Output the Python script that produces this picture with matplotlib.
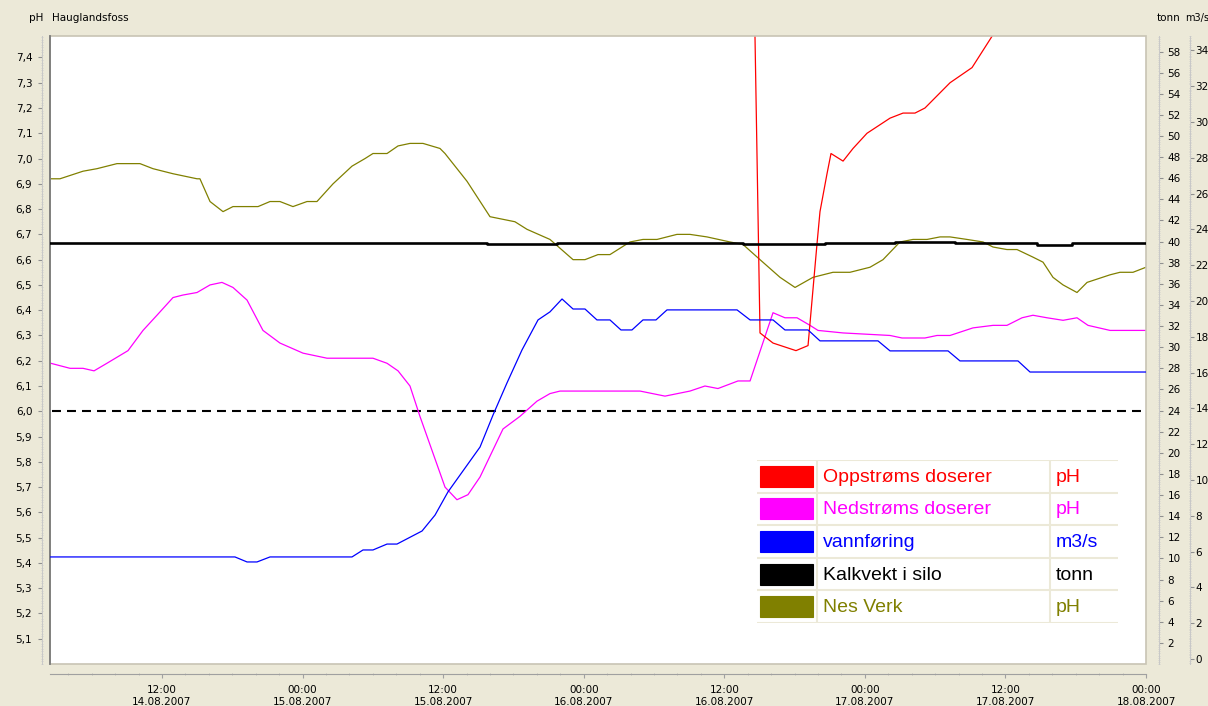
import numpy as np
import pandas as pd
import matplotlib
matplotlib.use("Agg")
import matplotlib.pyplot as plt
import matplotlib.dates as mdates
from matplotlib.patches import Rectangle
from matplotlib.ticker import FixedLocator, MultipleLocator

# time = hours after 14.08.2007 00:00
start = pd.Timestamp("2007-08-14 00:00")

nes_h = [2.44, 3.29, 5.26, 6.45, 8.16, 10.12, 11.23, 12.94, 14.99, 15.24, 16.10, 17.21,
         18.06, 18.91, 20.20, 21.22, 22.07, 23.18, 24.38, 25.23, 26.60, 28.22, 29.33,
         30.01, 31.21, 32.15, 33.17, 34.28, 35.73, 36.16, 38.04, 40.00, 42.13, 43.16,
         45.12, 47.09, 48.11, 49.22, 50.24, 51.95, 53.06, 54.26, 55.96, 57.07, 58.52,
         60.49, 61.60, 63.05, 64.76, 66.04, 67.57, 69.28, 70.73, 72.44, 73.55, 75.00,
         76.11, 77.31, 78.42, 79.27, 80.72, 82.09, 82.94, 84.13, 84.99, 86.35, 87.21,
         88.06, 88.92, 90.11, 90.97, 92.93, 93.78, 94.89, 96.0]
nes_ph = [6.92, 6.92, 6.95, 6.96, 6.98, 6.98, 6.96, 6.94, 6.92, 6.92, 6.83, 6.79,
          6.81, 6.81, 6.81, 6.83, 6.83, 6.81, 6.83, 6.83, 6.90, 6.97, 7.00,
          7.02, 7.02, 7.05, 7.06, 7.06, 7.04, 7.02, 6.91, 6.77, 6.75, 6.72,
          6.68, 6.60, 6.60, 6.62, 6.62, 6.67, 6.68, 6.68, 6.70, 6.70, 6.69,
          6.67, 6.66, 6.60, 6.53, 6.49, 6.53, 6.55, 6.55, 6.57, 6.60, 6.67,
          6.68, 6.68, 6.69, 6.69, 6.68, 6.67, 6.65, 6.64, 6.64, 6.61, 6.59,
          6.53, 6.50, 6.47, 6.51, 6.54, 6.55, 6.55, 6.57]

ned_h = [2.5, 4.15, 5.26, 6.20, 7.30, 9.10, 10.38, 11.57, 12.94, 13.79, 14.99, 16.10,
         17.12, 18.06, 19.26, 20.62, 22.07, 24.04, 26.09, 30.01, 31.21, 32.15, 33.17,
         34.02, 36.16, 37.18, 38.12, 39.15, 41.11, 42.56, 44.01, 45.12, 45.98, 52.81,
         54.94, 57.07, 58.35, 59.46, 61.17, 62.20, 64.16, 65.18, 66.21, 67.32, 68.00,
         70.14, 74.15, 75.17, 77.13, 78.16, 79.27, 81.23, 82.94, 84.13, 85.42, 86.35,
         87.55, 88.92, 90.11, 91.05, 92.93, 96.0]
ned_ph = [6.19, 6.17, 6.17, 6.16, 6.19, 6.24, 6.32, 6.38, 6.45, 6.46, 6.47, 6.50,
          6.51, 6.49, 6.44, 6.32, 6.27, 6.23, 6.21, 6.21, 6.19, 6.16, 6.10,
          5.98, 5.70, 5.65, 5.67, 5.74, 5.93, 5.98, 6.04, 6.07, 6.08, 6.08,
          6.06, 6.08, 6.10, 6.09, 6.12, 6.12, 6.39, 6.37, 6.37, 6.34, 6.32,
          6.31, 6.30, 6.29, 6.29, 6.30, 6.30, 6.33, 6.34, 6.34, 6.37, 6.38,
          6.37, 6.36, 6.37, 6.34, 6.32, 6.32]

opp_h = [62.02, 63.05, 64.16, 66.12, 67.15, 67.91, 68.17, 68.77, 69.11, 70.14, 70.99,
         72.18, 74.15, 75.26, 76.28, 77.13, 79.27, 81.15, 82.94, 84.4, 96.0]
opp_ph = [9.13, 6.31, 6.27, 6.24, 6.26, 6.66, 6.79, 6.94, 7.02, 6.99, 7.04,
          7.10, 7.16, 7.18, 7.18, 7.20, 7.30, 7.36, 7.49, 7.62, 8.40]

vann_h = [2.5, 18.23, 19.26, 20.11, 21.22, 28.22, 29.16, 30.01, 31.21, 32.06, 34.20,
          35.31, 36.41, 39.15, 40.26, 41.45, 42.73, 44.10, 45.12, 46.15, 47.09, 48.11,
          49.13, 50.24, 51.18, 52.12, 53.06, 54.17, 55.11, 61.09, 62.20, 64.16, 65.18,
          67.15, 68.17, 73.12, 74.15, 79.10, 80.12, 85.07, 86.10, 96.0]
vann_m3s = [5.70, 5.70, 5.42, 5.42, 5.70, 5.70, 6.09, 6.09, 6.42, 6.42, 7.15,
            8.04, 9.33, 11.84, 13.63, 15.42, 17.26, 18.94, 19.39, 20.11, 19.55, 19.55,
            18.94, 18.94, 18.38, 18.38, 18.94, 18.94, 19.50, 19.50, 18.94, 18.94, 18.38,
            18.38, 17.77, 17.77, 17.21, 17.21, 16.65, 16.65, 16.03, 16.03]

kalk_h = [2.44, 39.74, 45.72, 61.60, 68.6, 74.6, 79.7, 86.7, 89.7, 96.0]
kalk_tonn = [39.9, 39.8, 39.9, 39.8, 39.9, 40.0, 39.9, 39.7, 39.9, 39.9]

grense_ph = 6.0

legend_names = ["Oppstrøms doserer", "Nedstrøms doserer", "vannføring", "Kalkvekt i silo", "Nes Verk"]
legend_units = ["pH", "pH", "m3/s", "tonn", "pH"]
legend_colors = ["#FF0000", "#FF00FF", "#0000FF", "#000000", "#808000"]

ph_ticks = [5.1, 5.2, 5.3, 5.4, 5.5, 5.6, 5.7, 5.8, 5.9, 6.0, 6.1, 6.2, 6.3, 6.4, 6.5,
            6.6, 6.7, 6.8, 6.9, 7.0, 7.1, 7.2, 7.3, 7.4]
ph_labels = [f"{v:.1f}".replace(".", ",") for v in ph_ticks]
tonn_ticks = list(range(2, 60, 2))
m3s_ticks = list(range(0, 36, 2))


def t(hours):
    return start + pd.to_timedelta(np.array(hours), unit="h")


BG = "#ECE9D8"
plt.rcParams["font.family"] = ["DejaVu Sans"]
fig = plt.figure(figsize=(12.08, 7.06), dpi=100, facecolor=BG)
W, H = 1208, 706
ax = fig.add_axes([50 / W, 42 / H, 1096 / W, 628 / H])
ax.set_facecolor("white")
ax2 = ax.twinx()
ax3 = ax.twinx()

# pH series
ax.axhline(grense_ph, color="black", lw=1.5, dashes=(4.3, 2.9), xmin=0.002)
ax.plot(t(nes_h), nes_ph, color="#808000", lw=0.9)
ax.plot(t(ned_h), ned_ph, color="#FF00FF", lw=0.9)
ax.plot(t(opp_h), opp_ph, color="#FF0000", lw=0.9)
ax2.plot(t(kalk_h), kalk_tonn, color="black", lw=1.9, drawstyle="steps-post")
ax3.plot(t(vann_h), vann_m3s, color="#0000FF", lw=0.9)

ax.set_xlim(t([2.44])[0], t([96.0])[0])
ax.set_ylim(5.0, 7.485)
ax2.set_ylim(0, 59.47)
ax3.set_ylim(-0.28, 34.8)

# x axis
ax.xaxis.set_major_locator(mdates.HourLocator(byhour=[0, 12]))
ax.xaxis.set_minor_locator(mdates.HourLocator(interval=2))
ax.xaxis.set_major_formatter(mdates.DateFormatter("%H:%M\n%d.%m.%Y"))
ax.tick_params(axis="x", which="major", length=3, color="#A0A0A0", labelsize=7.5, pad=5,
               direction="out")
ax.tick_params(axis="x", which="minor", length=2, color="#B8B8B8", direction="inout")
for lab in ax.get_xticklabels():
    lab.set_horizontalalignment("center")
    lab.set_multialignment("center")

# left pH axis
ax.yaxis.set_major_locator(FixedLocator(ph_ticks))
ax.set_yticklabels(ph_labels)
ax.yaxis.set_minor_locator(MultipleLocator(0.01))
ax.tick_params(axis="y", which="major", length=3, color="#909090", labelsize=7.5, pad=4)
ax.tick_params(axis="y", which="minor", length=2, width=0.5, color="#C8C8C8", direction="inout")

for s in ["top", "right"]:
    ax.spines[s].set_visible(False)
ax.spines["left"].set_position(("outward", 8 * 0.72))
ax.spines["bottom"].set_position(("outward", 10 * 0.72))
ax.spines["left"].set_color("#C8C8C8")
ax.spines["bottom"].set_color("#A0A0A0")
ax.spines["left"].set_linewidth(0.7)
ax.spines["bottom"].set_linewidth(0.8)

# right axes
for a, off, ticks, pad in [(ax2, 13, tonn_ticks, 3), (ax3, 44, m3s_ticks, 1)]:
    for s in ["top", "left", "bottom"]:
        a.spines[s].set_visible(False)
    a.spines["right"].set_position(("outward", off * 0.72))
    a.spines["right"].set_color("#C8C8C8")
    a.spines["right"].set_linewidth(0.7)
    a.yaxis.set_major_locator(FixedLocator(ticks))
    a.yaxis.set_minor_locator(MultipleLocator(0.2 if a is ax2 else 0.1))
    a.tick_params(axis="y", which="major", length=3, color="#909090", labelsize=7.5, pad=pad)
    a.tick_params(axis="y", which="minor", length=2, width=0.5, color="#C8C8C8", direction="inout")

# plot frame
ax.add_patch(Rectangle((0, 0), 1, 1, transform=ax.transAxes, fill=False,
                       edgecolor="#C8C4B4", lw=1.2, clip_on=False, zorder=5))
ax.plot([0, 0], [0, 1], transform=ax.transAxes, color="#7A7A7A", lw=1.3, clip_on=False, zorder=6)

# header texts
fig.text(29 / W, 1 - 18 / H, "pH", fontsize=7.5, va="center")
fig.text(52 / W, 1 - 18 / H, "Hauglandsfoss", fontsize=7.5, va="center")
fig.text(1157 / W, 1 - 18 / H, "tonn", fontsize=7.5, va="center")
fig.text(1185 / W, 1 - 18 / H, "m3/s", fontsize=7, va="center")

# legend table
lg = fig.add_axes([757 / W, (706 - 623) / H, 361 / W, 163 / H], zorder=10)
lg.set_facecolor("white")
lg.set_xlim(0, 361)
lg.set_ylim(163, 0)
lg.axis("off")
lg.add_patch(Rectangle((0, 0), 361, 163, facecolor="white", edgecolor="none"))
row_h = 163 / 5
for i, (name, unit, col) in enumerate(zip(legend_names, legend_units, legend_colors)):
    y0 = i * row_h
    yc = y0 + row_h / 2
    lg.add_patch(Rectangle((3, yc - 10.5), 53, 21, facecolor=col, edgecolor=col, lw=0.8))
    lg.text(66, yc + 1, name, color=col, fontsize=14, family="Liberation Sans", va="center")
    lg.text(299, yc + 1, unit, color=col, fontsize=14, family="Liberation Sans", va="center")
for k in range(6):
    lg.plot([0, 361], [k * row_h, k * row_h], color=BG, lw=1.5)
for xv in [60, 293]:
    lg.plot([xv, xv], [0, 163], color=BG, lw=1.5)

fig.savefig("out.png", dpi=100, facecolor=BG)
